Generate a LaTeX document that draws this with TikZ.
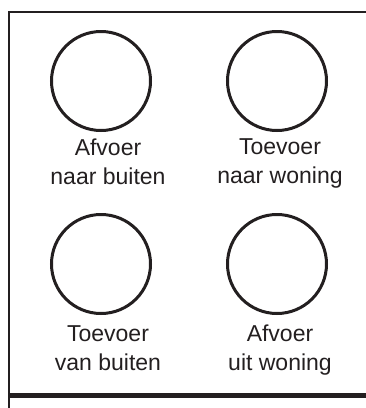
\documentclass[tikz,border=0pt]{standalone}
\usepackage{fontspec}
\setmainfont{Liberation Sans}
\definecolor{inkt}{HTML}{231F20}
\begin{document}
\begin{tikzpicture}[x=1pt,y=-1pt,
    pijp/.style={circle,minimum size=99pt,inner sep=0pt,draw=inkt,line width=3pt},
    tekst/.style={align=center,font=\fontsize{23}{29}\selectfont,text=inkt,inner sep=0pt,anchor=north}]
    \useasboundingbox (0,0) rectangle (366,408);

    \node[pijp] (afb) at (101,81) {};
    \node[pijp] (toew) at (277,81) {};
    \node[pijp] (toeb) at (101,264) {};
    \node[pijp] (afw) at (277,264) {};

    \node[tekst] (lafb) at (108,138.5) {Afvoer\\naar buiten};
    \node[tekst] (ltoew) at (280,138.5) {Toevoer\\naar woning};
    \node[tekst] (ltoeb) at (108,325) {Toevoer\\van buiten};
    \node[tekst] (lafw) at (280,325) {Afvoer\\uit woning};

    % kader
    \coordinate (lo) at (9,408);
    \coordinate (lb) at (9,12);
    \coordinate (rb) at (366,12);
    \coordinate (sl) at (9,395);
    \coordinate (sr) at (366,395);
    \draw[inkt,line width=2.5pt] (lo) -- (lb) -- (rb);
    \draw[inkt,line width=5pt] (sl) -- (sr);
\end{tikzpicture}
\end{document}
